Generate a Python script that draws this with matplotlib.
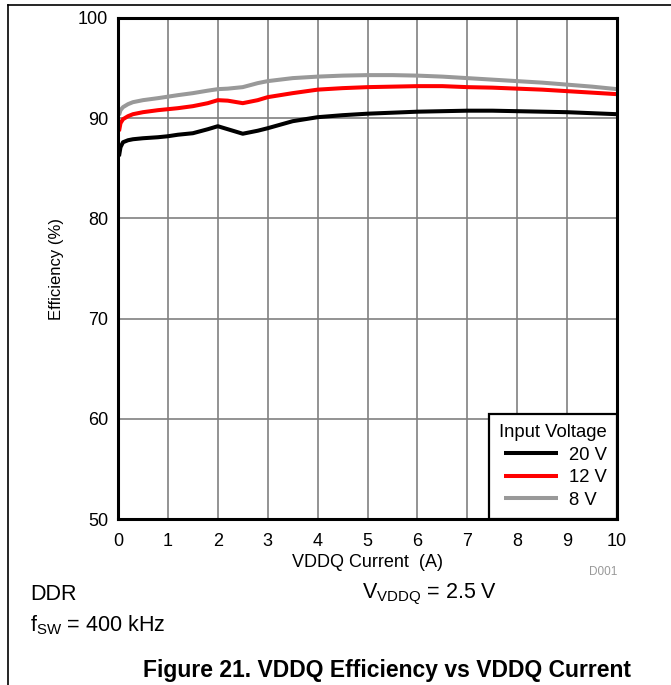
import numpy as np
import matplotlib
matplotlib.use("Agg")
from matplotlib import pyplot as plt
from matplotlib.lines import Line2D

plt.rcParams['font.family'] = ['Liberation Sans', 'DejaVu Sans']

# VDDQ current (A)
current = [0.02, 0.05, 0.1, 0.2, 0.3, 0.5, 0.8, 1.0, 1.2, 1.5, 1.8, 2.0, 2.2, 2.5,
           2.8, 3.0, 3.5, 4.0, 4.5, 5.0, 5.5, 6.0, 6.5, 7.0, 7.5, 8.0, 8.5, 9.0, 9.5, 10.0]

# efficiency (%) per input voltage
eff_20v = [86.2, 87.1, 87.6, 87.8, 87.9, 88.0, 88.1, 88.2, 88.35, 88.5, 88.9, 89.2, 88.9, 88.45,
           88.75, 89.0, 89.7, 90.1, 90.3, 90.45, 90.55, 90.65, 90.7, 90.75, 90.75, 90.7, 90.65, 90.6, 90.5, 90.4]
eff_12v = [88.7, 89.5, 89.9, 90.2, 90.4, 90.6, 90.8, 90.9, 91.0, 91.2, 91.5, 91.8, 91.75, 91.5,
           91.8, 92.1, 92.5, 92.85, 93.0, 93.1, 93.15, 93.2, 93.2, 93.1, 93.05, 92.95, 92.85, 92.7, 92.55, 92.4]
eff_8v = [90.3, 90.8, 91.1, 91.4, 91.6, 91.8, 92.0, 92.15, 92.3, 92.5, 92.75, 92.9, 92.95, 93.1,
          93.5, 93.7, 94.0, 94.15, 94.25, 94.3, 94.3, 94.25, 94.15, 94.0, 93.85, 93.7, 93.55, 93.35, 93.15, 92.9]

series = [("20 V", eff_20v, "black"), ("12 V", eff_12v, "#ff0000"), ("8 V", eff_8v, "#999999")]

fig = plt.figure(figsize=(6.71, 6.85), dpi=100)
ax = fig.add_axes([118 / 671, 1 - 519 / 685, (617 - 118) / 671, (519 - 18) / 685])

for name, vals, col in series:
    ax.plot(current, vals, color=col, lw=2.9, label=name, solid_capstyle='butt')

ax.set_xlim(0, 10)
ax.set_ylim(50, 100)
ax.set_xticks(np.arange(0, 11, 1))
ax.set_yticks(np.arange(50, 101, 10))
ax.grid(True, color='#808080', lw=1.2)
ax.set_axisbelow(True)
ax.tick_params(axis='x', length=0, labelsize=13, pad=10)
ax.tick_params(axis='y', length=0, labelsize=13, pad=7)
for s in ax.spines.values():
    s.set_linewidth(2.2)
    s.set_color('black')

ax.set_xlabel("VDDQ Current  (A)", fontsize=13, labelpad=3)
ax.set_ylabel("Efficiency (%)", fontsize=12, labelpad=10)

leg = ax.legend(title="Input Voltage", loc='lower right', borderaxespad=0, fancybox=False,
                framealpha=1, edgecolor='black', fontsize=13.3, title_fontsize=13.3,
                handlelength=2.9, handletextpad=0.6, labelspacing=0.3, borderpad=0.55)
leg.get_frame().set_linewidth(1.6)
leg._legend_box.align = "right"

fig.text(617 / 671, 1 - 572 / 685, "D001", color='#999999', fontsize=8.5, ha='right', va='center')
fig.text(30 / 671, 1 - 594 / 685, "DDR", fontsize=15.5, ha='left', va='center')
fig.text(362 / 671, 1 - 594 / 685, r"V$_{\mathregular{VDDQ}}$ = 2.5 V", fontsize=15.5, ha='left', va='center')
fig.text(30 / 671, 1 - 625 / 685, r"f$_{\mathregular{SW}}$ = 400 kHz", fontsize=15.5, ha='left', va='center')
fig.text(387 / 671, 1 - 670 / 685, "Figure 21. VDDQ Efficiency vs VDDQ Current", fontsize=16.5,
         fontweight='bold', ha='center', va='center')

# page frame
fig.add_artist(Line2D([8 / 671, 8 / 671], [0, 1 - 5 / 685], color='black', lw=1.2))
fig.add_artist(Line2D([8 / 671, 1], [1 - 5 / 685, 1 - 5 / 685], color='black', lw=1.2))

fig.savefig("out.png", dpi=100)
